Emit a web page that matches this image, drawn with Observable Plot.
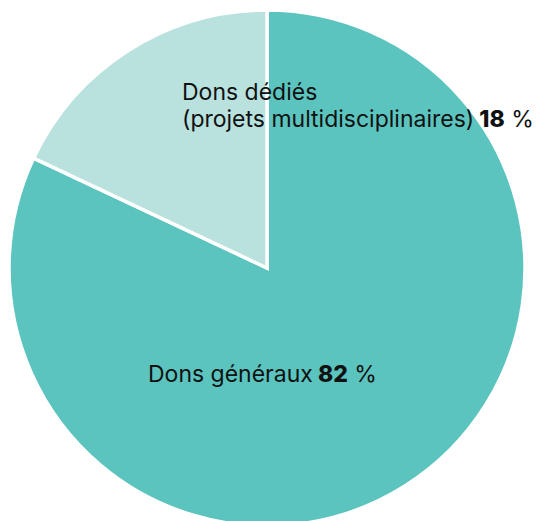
<!DOCTYPE html>
<html>
<head>
<meta charset="utf-8">
<script src="https://cdn.jsdelivr.net/npm/d3@7"></script>
<script src="https://cdn.jsdelivr.net/npm/@observablehq/plot@0.6"></script>
<style>
  html, body { margin: 0; padding: 0; background: #fff; }
</style>
</head>
<body>
<div id="chart"></div>
<script>
// Data
const categories = ["Dons généraux", "Dons dédiés"];
const values = [82, 18];
const colors = ["#5bc4bf", "#b9e2df"];
const labelLines = [["Dons généraux"], ["Dons dédiés", "(projets multidisciplinaires)"]];
const valueLabels = ["82 %", "18 %"];

const W = 543, H = 521;
const cx = 267, cy = 268, R = 258;
// label anchors (layout)
const labelPos = [{x: 148, y: 382}, {x: 182, y: 100}];
const lineGap = 27;

const data = categories.map((c, i) => ({category: c, value: values[i]}));
const arcs = d3.pie().value(d => d.value).sort(null)(data);

const pieMark = (index, scales, vals, dims) => {
  const g = d3.create("svg:g").attr("transform", `translate(${cx},${cy})`);
  const arc = d3.arc().innerRadius(0).outerRadius(R);
  g.selectAll("path").data(arcs).join("path")
    .attr("d", arc)
    .attr("fill", d => scales.color(d.data.category))
    .attr("stroke", "#fff")
    .attr("stroke-width", 3.5)
    .attr("stroke-linejoin", "miter");
  return g.node();
};

const labelMark = () => {
  const g = d3.create("svg:g")
    .attr("font-family", "Inter, 'Noto Sans', sans-serif")
    .attr("font-size", 23)
    .attr("text-anchor", "start")
    .attr("fill", "#111");
  categories.forEach((c, i) => {
    const lines = labelLines[i];
    lines.forEach((ln, j) => {
      const t = g.append("text")
        .attr("x", labelPos[i].x)
        .attr("y", labelPos[i].y + j * lineGap);
      t.append("tspan").text(ln);
      if (j === lines.length - 1) {
        const [num, pct] = valueLabels[i].split(" ");
        t.append("tspan").attr("font-weight", 800).text(" " + num);
        t.append("tspan").text(" " + pct);
      }
    });
  });
  return g.node();
};

const chart = Plot.plot({
  width: W,
  height: H,
  margin: 0,
  x: {axis: null},
  y: {axis: null},
  color: {domain: categories, range: colors},
  marks: [pieMark, labelMark]
});
document.getElementById("chart").appendChild(chart);
</script>
</body>
</html>
